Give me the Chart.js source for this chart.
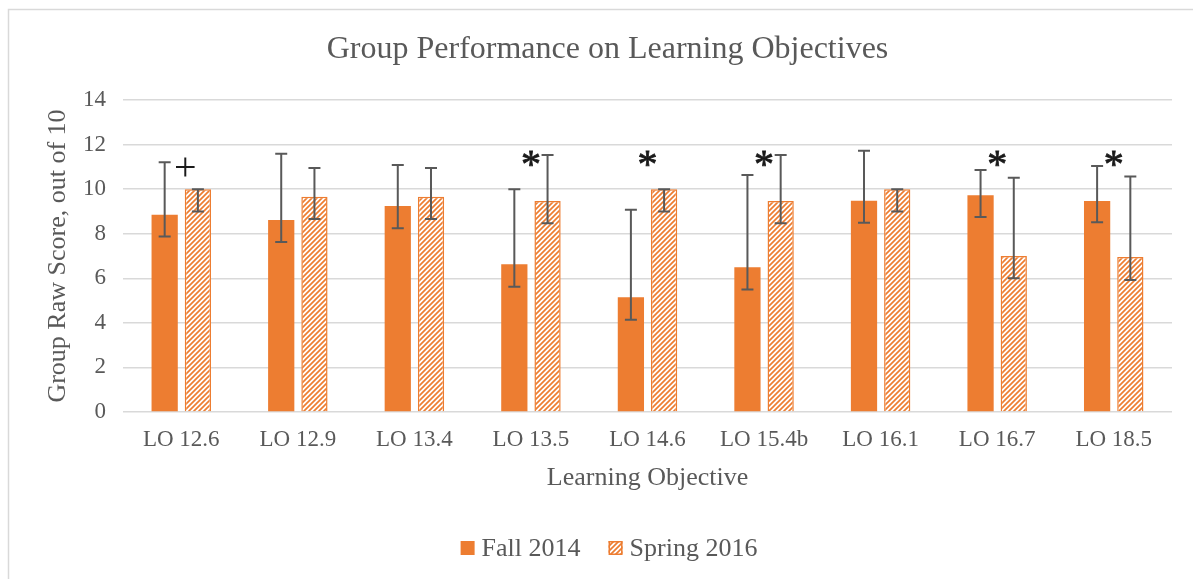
<!DOCTYPE html>
<html>
<head>
<meta charset="utf-8">
<script src="https://cdn.jsdelivr.net/npm/chart.js@4.4.0/dist/chart.umd.min.js"></script>
<style>
  html, body { margin: 0; padding: 0; background: #ffffff; }
  #wrap { width: 1193px; height: 579px; }
</style>
</head>
<body>
<div id="wrap"><canvas id="c" width="1193" height="579"></canvas></div>
<script>
// ---- Data ----
const categories = ['LO 12.6', 'LO 12.9', 'LO 13.4', 'LO 13.5', 'LO 14.6', 'LO 15.4b', 'LO 16.1', 'LO 16.7', 'LO 18.5'];
const fall2014 = [8.85, 8.61, 9.24, 6.63, 5.15, 6.49, 9.48, 9.73, 9.47];
const fall2014High = [11.21, 11.59, 11.08, 10.0, 9.08, 10.63, 11.72, 10.86, 11.04];
const fall2014Low = [7.87, 7.63, 8.24, 5.62, 4.14, 5.50, 8.49, 8.75, 8.51];
const spring2016 = [10.0, 9.66, 9.66, 9.47, 10.0, 9.47, 10.0, 7.0, 6.95];
const spring2016High = [10.0, 10.95, 10.95, 11.53, 10.0, 11.53, 10.0, 10.51, 10.57];
const spring2016Low = [9.0, 8.66, 8.66, 8.47, 9.0, 8.47, 9.0, 6.0, 5.92];
const markers = ['+', '', '', '*', '*', '*', '', '*', '*'];
const markerBaseline = 10.42;
const yTicks = [0, 2, 4, 6, 8, 10, 12, 14];

const ORANGE = '#ED7D31';
const TEXT = '#595959';
const FONT = "'Liberation Serif', 'Times New Roman', serif";

// hatch pattern (wide upward diagonal)
function makeHatch() {
  const s = 5;
  const c = document.createElement('canvas');
  c.width = s; c.height = s;
  const g = c.getContext('2d');
  g.fillStyle = '#ffffff';
  g.fillRect(0, 0, s, s);
  g.strokeStyle = ORANGE;
  g.lineWidth = 1.7;
  g.beginPath();
  g.moveTo(-1, s + 1); g.lineTo(s + 1, -1);
  g.moveTo(-1, 1); g.lineTo(1, -1);
  g.moveTo(s - 1, s + 1); g.lineTo(s + 1, s - 1);
  g.stroke();
  return g.createPattern(c, 'repeat');
}
const hatch = makeHatch();

const errorBounds = [
  { high: fall2014High, low: fall2014Low },
  { high: spring2016High, low: spring2016Low }
];

const framePlugin = {
  id: 'frame',
  beforeDraw(chart) {
    const ctx = chart.ctx;
    ctx.save();
    ctx.fillStyle = '#ffffff';
    ctx.fillRect(0, 0, chart.width, chart.height);
    ctx.strokeStyle = '#d9d9d9';
    ctx.lineWidth = 1.5;
    ctx.beginPath();
    ctx.moveTo(8.5, chart.height);
    ctx.lineTo(8.5, 9.5);
    ctx.lineTo(chart.width, 9.5);
    ctx.stroke();
    ctx.restore();
  }
};

const errorBarPlugin = {
  id: 'errorBars',
  afterDatasetsDraw(chart) {
    const ctx = chart.ctx;
    const ys = chart.scales.y;
    ctx.save();
    ctx.strokeStyle = '#595959';
    ctx.lineWidth = 2;
    errorBounds.forEach((eb, di) => {
      const meta = chart.getDatasetMeta(di);
      meta.data.forEach((bar, i) => {
        const x = bar.x;
        const yt = ys.getPixelForValue(eb.high[i]);
        const yb = ys.getPixelForValue(eb.low[i]);
        const hw = 6;
        ctx.beginPath();
        ctx.moveTo(x, yt); ctx.lineTo(x, yb);
        ctx.moveTo(x - hw, yt); ctx.lineTo(x + hw, yt);
        ctx.moveTo(x - hw, yb); ctx.lineTo(x + hw, yb);
        ctx.stroke();
      });
    });
    ctx.restore();
  }
};

const markerPlugin = {
  id: 'markers',
  afterDatasetsDraw(chart) {
    const ctx = chart.ctx;
    const xs = chart.scales.x, ys = chart.scales.y;
    ctx.save();
    ctx.fillStyle = '#1a1a1a';
    ctx.strokeStyle = '#1a1a1a';
    ctx.lineWidth = 0.8;
    ctx.font = '40px ' + FONT;
    ctx.textAlign = 'center';
    ctx.textBaseline = 'alphabetic';
    markers.forEach((m, i) => {
      if (!m) return;
      const dx = m === '+' ? 4 : 0;
      const dy = m === '*' ? -3 : 0;
      const x = xs.getPixelForValue(i) + dx;
      const y = ys.getPixelForValue(markerBaseline) + dy;
      ctx.fillText(m, x, y);
      if (m === '*') ctx.strokeText(m, x, y);
    });
    ctx.restore();
  }
};

// custom legend (Excel-like spacing)
const legendPlugin = {
  id: 'excelLegend',
  afterDraw(chart) {
    const ctx = chart.ctx;
    const items = chart.data.datasets.map(d => ({
      text: d.label, fill: d.backgroundColor, stroke: d.borderWidth ? d.borderColor : null
    }));
    const box = 14, gap = 7, itemGap = 28, cx = 609, cy = 548;
    ctx.save();
    ctx.font = '26px ' + FONT;
    const widths = items.map(it => ctx.measureText(it.text).width);
    const total = widths.reduce((a, w) => a + box + gap + w, 0) + itemGap * (items.length - 1);
    let x = cx - total / 2;
    items.forEach((it, i) => {
      ctx.fillStyle = it.fill;
      ctx.fillRect(x, cy - box / 2, box, box);
      if (it.stroke) {
        ctx.strokeStyle = it.stroke;
        ctx.lineWidth = 1.5;
        ctx.strokeRect(x + 0.75, cy - box / 2 + 0.75, box - 1.5, box - 1.5);
      }
      ctx.fillStyle = TEXT;
      ctx.textAlign = 'left';
      ctx.textBaseline = 'middle';
      ctx.fillText(it.text, x + box + gap, cy + 1);
      x += box + gap + widths[i] + itemGap;
    });
    ctx.restore();
  }
};

new Chart(document.getElementById('c'), {
  type: 'bar',
  data: {
    labels: categories,
    datasets: [
      {
        label: 'Fall 2014',
        data: fall2014,
        backgroundColor: ORANGE,
        borderWidth: 0,
        categoryPercentage: 0.57,
        barPercentage: 0.79
      },
      {
        label: 'Spring 2016',
        data: spring2016,
        backgroundColor: hatch,
        borderColor: ORANGE,
        borderWidth: 1.5,
        categoryPercentage: 0.57,
        barPercentage: 0.79
      }
    ]
  },
  options: {
    responsive: false,
    animation: false,
    devicePixelRatio: 1,
    layout: { padding: { top: 0, left: 43, right: 21, bottom: 53.5 } },
    plugins: {
      title: {
        display: true,
        text: 'Group Performance on Learning Objectives',
        color: TEXT,
        font: { family: FONT, size: 32, weight: 'normal' },
        padding: { top: 30, bottom: 31.6 }
      },
      legend: { display: false },
      tooltip: { enabled: false }
    },
    scales: {
      x: {
        grid: { display: false, drawTicks: false },
        border: { display: false },
        ticks: { color: TEXT, font: { family: FONT, size: 23 }, padding: 14 },
        title: {
          display: true,
          text: 'Learning Objective',
          color: TEXT,
          font: { family: FONT, size: 26 },
          padding: { top: 8, bottom: 31.9 }
        },
        afterFit(s) { s.height = 113.5; }
      },
      y: {
        min: 0,
        max: 14,
        afterBuildTicks(s) { s.ticks = yTicks.map(v => ({ value: v })); },
        grid: { color: '#d9d9d9', lineWidth: 1.5, drawTicks: false },
        border: { display: false },
        ticks: { color: TEXT, font: { family: FONT, size: 23 }, padding: 17 },
        title: {
          display: true,
          text: 'Group Raw Score, out of 10',
          color: TEXT,
          font: { family: FONT, size: 26 },
          padding: { top: 0, bottom: 0 }
        },
        afterFit(s) { s.width = 80; }
      }
    }
  },
  plugins: [framePlugin, errorBarPlugin, markerPlugin, legendPlugin]
});
</script>
</body>
</html>
